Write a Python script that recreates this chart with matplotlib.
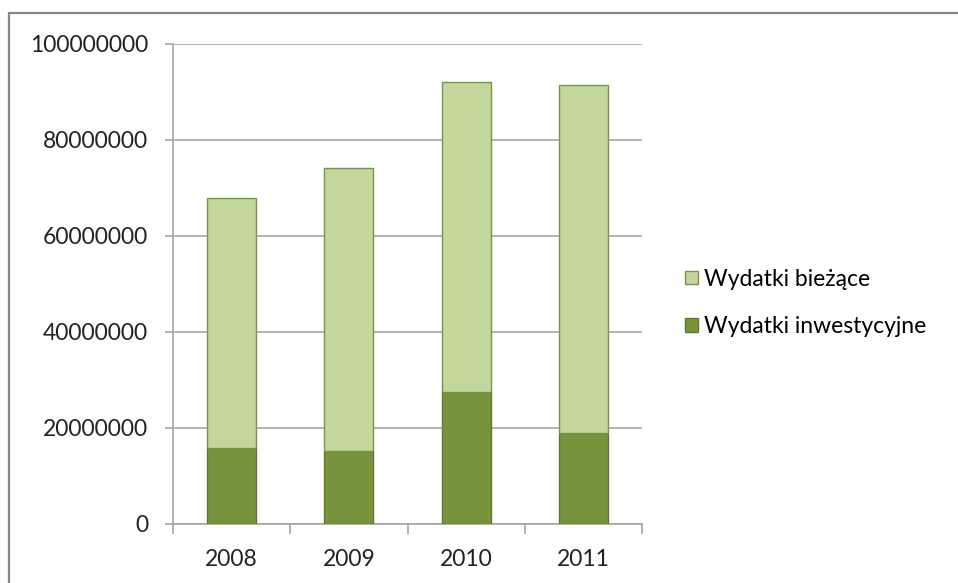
import matplotlib.pyplot as plt
import numpy as np
from matplotlib.patches import Rectangle

plt.rcParams['font.family'] = ['Lato', 'DejaVu Sans']

years = ["2008", "2009", "2010", "2011"]
inwestycyjne = [15.8e6, 15.3e6, 27.6e6, 19.0e6]
biezace_total = [67.85e6, 74.2e6, 92.1e6, 91.4e6]
biezace = [t - i for t, i in zip(biezace_total, inwestycyjne)]

c_light = "#C3D69B"
c_dark = "#77933C"
grid_c = "#A6A6A6"
fs = 16.5

fig = plt.figure(figsize=(9.58, 5.83), dpi=100)
# outer chart frame
fig.patches.append(Rectangle((9 / 958, -0.05), 1.2, (583 - 13) / 583 + 0.05,
                             transform=fig.transFigure, fill=False,
                             edgecolor="#878787", linewidth=1.6))

ax = fig.add_axes([173 / 958, 59 / 583, (642 - 173) / 958, (524 - 44) / 583])
x = np.arange(len(years))
w = 0.42
ax.bar(x, inwestycyjne, w, color=c_dark, edgecolor="#5F7A2E", linewidth=1,
       label="Wydatki inwestycyjne", zorder=3)
ax.bar(x, biezace, w, bottom=inwestycyjne, color=c_light, edgecolor="#7A9448",
       linewidth=1, label="Wydatki bieżące", zorder=3)

ax.set_xlim(-0.5, len(years) - 0.5)
ax.set_ylim(0, 100e6)
ax.set_yticks(np.arange(0, 100e6 + 1, 20e6))
ax.set_yticklabels([f"{int(v)}" for v in np.arange(0, 100e6 + 1, 20e6)])
ax.yaxis.grid(True, color=grid_c, linewidth=1.2, zorder=0)
ax.set_xticks(x)
ax.set_xticklabels(years)
ax.set_xticks(np.arange(-0.5, len(years)), minor=True)

for s in ["top", "right"]:
    ax.spines[s].set_visible(False)
for s in ["left", "bottom"]:
    ax.spines[s].set_color(grid_c)
    ax.spines[s].set_linewidth(1.2)

ax.tick_params(axis="y", length=6, color=grid_c, width=1.2, pad=12,
               labelsize=fs, labelcolor="#222222")
ax.tick_params(axis="x", which="major", length=0, pad=18, labelsize=fs,
               labelcolor="#222222")
ax.tick_params(axis="x", which="minor", length=7, color=grid_c, width=1.2)

h, l = ax.get_legend_handles_labels()
ax.legend(h[::-1], l[::-1], loc="center left", bbox_to_anchor=(1.0917, 0.461),
          frameon=False, fontsize=fs, handlelength=0.55, handleheight=0.55,
          handletextpad=0.3, labelspacing=1.15, borderpad=0, borderaxespad=0)

fig.savefig("out.png", dpi=100)
